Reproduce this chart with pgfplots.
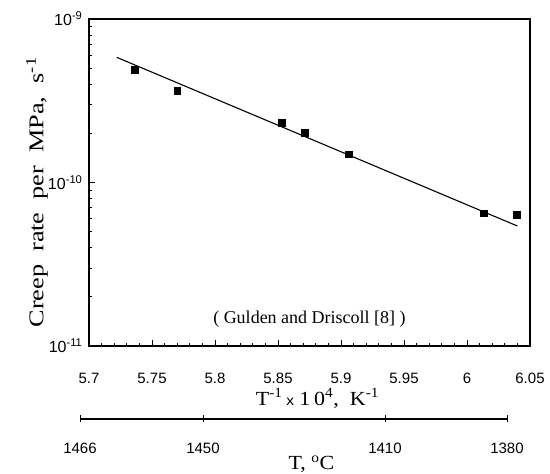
\documentclass[border=0pt]{standalone}
\usepackage{fontspec}
\setmainfont{Liberation Serif}
\newfontfamily\tickfont{Liberation Sans}
\usepackage{pgfplots}
\pgfplotsset{compat=1.18}

% creep rate per MPa vs reciprocal temperature
\pgfplotstableread{
x       y
5.7365  4.88e-10
5.7700  3.63e-10
5.8530  2.32e-10
5.8710  2.01e-10
5.9060  1.49e-10
6.0134  6.49e-11
6.0395  6.38e-11
}\creepdata

\begin{document}
\begin{tikzpicture}
\useasboundingbox (-89pt,-128pt) rectangle (461pt,346pt);
\begin{axis}[
  at={(0pt,0pt)}, anchor=south west,
  scale only axis, width=441pt, height=327pt,
  xmin=5.7, xmax=6.05,
  ymode=log, ymin=1e-11, ymax=1e-9,
  xtick={5.7,5.75,5.8,5.85,5.9,5.95,6,6.05},
  xticklabels={5.7,5.75,5.8,5.85,5.9,5.95,6,6.05},
  minor x tick num=4,
  ytick={1e-11,1e-10,1e-9},
  yticklabels={10\textsuperscript{-11},10\textsuperscript{-10},10\textsuperscript{-9}},
  xtick pos=bottom, ytick pos=left,
  tick align=inside,
  major tick length=6pt, minor tick length=3.5pt,
  axis line style={line width=1.1pt},
  every tick/.style={black, line width=0.7pt},
  ticklabel style={font=\tickfont\fontsize{15}{18}\selectfont},
  xticklabel style={anchor=base, yshift=-37pt},
  yticklabel style={xshift=-3pt, font=\tickfont\fontsize{16}{18}\selectfont},
  xlabel={T\textsuperscript{-1}\,{\tickfont\fontsize{14}{16}\selectfont x} 1\,0\textsuperscript{4},\ \ K\textsuperscript{-1}},
  xlabel style={at={(rel axis cs:0.5,0)}, anchor=base, yshift=-59pt, xshift=8pt,
    xscale=1.1, font=\fontsize{20}{24}\selectfont},
  ylabel={Creep\ \ rate\ \ per\ \ MPa,\ \ s\textsuperscript{-1}},
  ylabel style={at={(rel axis cs:0,0.47)}, anchor=center, yshift=52pt,
    xscale=1.25, font=\fontsize{21}{24}\selectfont},
]
\addplot[black, line width=1.1pt] coordinates {(5.722,5.83e-10) (6.040,5.42e-11)};
\addplot[only marks, mark=square*, mark size=3.4pt, black] table[x=x, y=y] {\creepdata};
\node[font=\fontsize{18}{21}\selectfont, anchor=center] at (rel axis cs:0.5,0.083)
  {( Gulden and Driscoll [8] )};
\end{axis}
% temperature scale in degrees Celsius
\begin{axis}[
  at={(-9pt,-73pt)}, anchor=south west,
  scale only axis, width=427pt, height=5pt,
  xmin=0, xmax=427, ymin=0, ymax=1,
  axis x line*=bottom, axis y line=none,
  xtick={0,123,305,427},
  xticklabels={1466,1450,1410,1380},
  ytick=\empty,
  tick align=center, major tick length=7pt,
  axis line style={line width=1.1pt},
  every tick/.style={black, line width=0.7pt},
  ticklabel style={font=\tickfont\fontsize{15}{18}\selectfont},
  xticklabel style={anchor=base, yshift=-31pt},
  xlabel={T, \textsuperscript{o}C},
  xlabel style={at={(rel axis cs:0.5,0)}, anchor=base, yshift=-51pt, xshift=18pt,
    xscale=1.1, font=\fontsize{20}{24}\selectfont},
]
\end{axis}
\end{tikzpicture}
\end{document}
